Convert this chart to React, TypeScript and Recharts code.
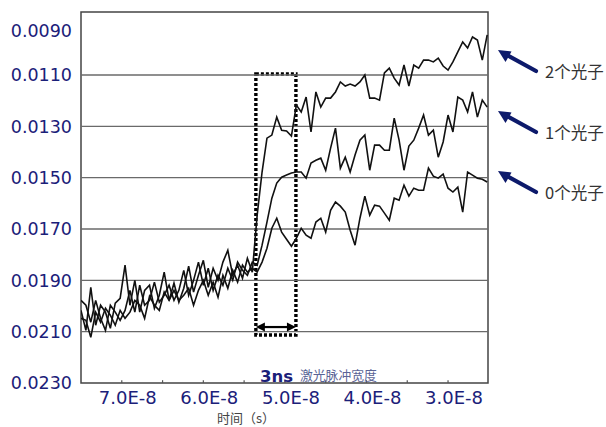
import React from "react";
import { LineChart, Line, XAxis, YAxis, ReferenceLine, ReferenceArea } from "recharts";

// sample times in ns (axis shows seconds as x.xE-8)
const timeNs = [
  75.0, 74.4, 73.8, 73.2, 72.6, 72.0, 71.4, 70.8, 70.2, 69.6, 69.0, 68.4, 67.8, 67.2, 66.6, 66.0, 65.4, 64.8, 64.2, 63.6,
  63.0, 62.4, 61.8, 61.2, 60.6, 60.0, 59.4, 58.8, 58.2, 57.6, 57.0, 56.4, 55.8, 55.2, 54.6, 54.0, 53.4, 52.8, 52.2, 51.6,
  51.0, 50.4, 49.8, 49.2, 48.6, 48.0, 47.4, 46.8, 46.2, 45.6, 45.0, 44.4, 43.8, 43.2, 42.6, 42.0, 41.4, 40.8, 40.2, 39.6,
  39.0, 38.4, 37.8, 37.2, 36.6, 36.0, 35.4, 34.8, 34.2, 33.6, 33.0, 32.4, 31.8, 31.2, 30.6, 30.0, 29.4, 28.8, 28.2, 27.6,
  27.0, 26.4, 25.8, 25.2,
];

const photon2 = [
  0.02017, 0.02095, 0.01927, 0.02075, 0.01997, 0.02024, 0.02087, 0.01989, 0.0197, 0.01841, 0.01997, 0.019, 0.02024, 0.01939, 0.01919, 0.02009, 0.01958, 0.01868, 0.01978, 0.01911,
  0.01985, 0.01931, 0.01845, 0.01946, 0.0188, 0.01822, 0.01927, 0.01853, 0.019, 0.01829, 0.01783, 0.0188, 0.01841, 0.01892, 0.01814, 0.01868, 0.01646, 0.01478, 0.01346, 0.01334,
  0.01264, 0.01315, 0.01318, 0.01338, 0.01217, 0.01244, 0.01186, 0.01322, 0.01166, 0.01225, 0.0119, 0.0119, 0.01166, 0.01127, 0.01143, 0.01135, 0.01143, 0.01127, 0.011, 0.0119,
  0.0119, 0.01198, 0.01092, 0.01073, 0.01112, 0.01139, 0.01061, 0.01143, 0.01061, 0.01073, 0.01042, 0.01042, 0.01049, 0.01034, 0.01065, 0.01081, 0.01049, 0.0101, 0.00971, 0.00995,
  0.00952, 0.00964, 0.01042, 0.00944,
];

const photon1 = [
  0.01978, 0.01997, 0.02063, 0.01978, 0.02048, 0.02095, 0.01997, 0.02024, 0.02056, 0.02017, 0.01939, 0.02024, 0.01919, 0.01997, 0.01978, 0.01907, 0.01985, 0.01958, 0.01919, 0.01978,
  0.01939, 0.01861, 0.01958, 0.019, 0.01829, 0.01919, 0.01853, 0.01939, 0.0188, 0.01919, 0.01853, 0.019, 0.01829, 0.01861, 0.0188, 0.01829, 0.01841, 0.01763, 0.01673, 0.0158,
  0.01521, 0.01498, 0.0149, 0.01482, 0.01478, 0.01478, 0.01502, 0.01443, 0.01432, 0.01424, 0.01471, 0.01385, 0.01307, 0.01463, 0.0142, 0.01478, 0.01412, 0.01354, 0.01334, 0.01471,
  0.01373, 0.01373, 0.01393, 0.01393, 0.01268, 0.01354, 0.01471, 0.01377, 0.01354, 0.01307, 0.01256, 0.01334, 0.01315, 0.0142, 0.01361, 0.01256, 0.01322, 0.01186, 0.01198, 0.01244,
  0.01166, 0.01264, 0.01198, 0.01225,
];

const photon0 = [
  0.02048, 0.02056, 0.02122, 0.02024, 0.02063, 0.02009, 0.02036, 0.02075, 0.02017, 0.02048, 0.02024, 0.01978, 0.01997, 0.02048, 0.01962, 0.01997, 0.02017, 0.01946, 0.01978, 0.01939,
  0.01978, 0.01958, 0.01931, 0.01997, 0.01939, 0.019, 0.01958, 0.01907, 0.01966, 0.0188, 0.01931, 0.01861, 0.01907, 0.01841, 0.01868, 0.01853, 0.01868, 0.01829, 0.01775, 0.01697,
  0.01658, 0.01712, 0.0174, 0.01767, 0.01736, 0.01697, 0.01724, 0.01736, 0.01673, 0.01658, 0.01712, 0.01627, 0.01595, 0.01611, 0.01634, 0.01705, 0.01763, 0.01658, 0.01572, 0.01646,
  0.01607, 0.01611, 0.01638, 0.01666, 0.0158, 0.01588, 0.01529, 0.01572, 0.01541, 0.01549, 0.01549, 0.01463, 0.01494, 0.01502, 0.01486, 0.01541, 0.01556, 0.01537, 0.01634, 0.01478,
  0.0149, 0.01502, 0.01506, 0.01517,
];

const yTicks = [0.009, 0.011, 0.013, 0.015, 0.017, 0.019, 0.021, 0.023];
const gridValues = [0.011, 0.013, 0.015, 0.017, 0.019, 0.021];
const xTicks = [70, 60, 50, 40, 30];
const xMinorTicks = [70, 65, 60, 55, 50, 45, 40, 35, 30];
const xDomain = [25.1, 75];
const yDomain = [0.008545, 0.023];
const pulseWindow = { from: 53.56, to: 48.65, top: 0.01096, bottom: 0.02113, arrowAt: 0.02082 };
const seriesLabels = ["2个光子", "1个光子", "0个光子"];

const data = timeNs.map((t, i) => ({ t, s2: photon2[i], s1: photon1[i], s0: photon0[i] }));

const NAVY = "#1b2079";
const FONT = "'DejaVu Sans', sans-serif";
const CJK = "'Noto Sans CJK SC', sans-serif";

const YTick = (props: any) => {
  const { x, y, payload } = props;
  const extra = payload.value === 0.009 ? 7 : 0;
  return (
    <text x={x} y={y + extra} dy="0.36em" textAnchor="end" fill={NAVY} fontSize={17.5} fontFamily={FONT}>
      {Number(payload.value).toFixed(4)}
    </text>
  );
};

const XTick = (props: any) => {
  const { x, y, payload } = props;
  return (
    <text x={x + 6} y={y} dy={12.5} textAnchor="middle" fill={NAVY} fontSize={18} fontFamily={FONT}>
      {(payload.value / 10).toFixed(1) + "E-8"}
    </text>
  );
};

const DoubleArrow = (props: any) => {
  const { x1, y1, x2, y2 } = props;
  const l = Math.min(x1, x2);
  const r = Math.max(x1, x2);
  const y = y1;
  return (
    <g>
      <line x1={l + 6} y1={y} x2={r - 6} y2={y2} stroke="#000" strokeWidth={2.2} />
      <polygon points={`${l},${y} ${l + 9},${y - 4.5} ${l + 9},${y + 4.5}`} fill="#000" />
      <polygon points={`${r},${y} ${r - 9},${y - 4.5} ${r - 9},${y + 4.5}`} fill="#000" />
    </g>
  );
};

const SideArrow = ({ dy, label }: { dy: number; label: string }) => (
  <g transform={`translate(0, ${dy})`}>
    <line x1={536} y1={71} x2={506} y2={54.5} stroke="#0d1a6b" strokeWidth={4.2} strokeLinecap="round" />
    <polygon points="498,50 511.5,51.5 505.5,62" fill="#0d1a6b" />
    <text x={545} y={71} dominantBaseline="central" fill="#333" fontSize={16.5} fontFamily={CJK}>
      {label}
    </text>
  </g>
);

export default function App() {
  return (
    <div style={{ position: "absolute", left: 0, top: 0, width: 606, height: 427, background: "#fff", fontFamily: FONT, overflow: "hidden" }}>
      <LineChart width={606} height={427} data={data} margin={{ top: 12, right: 118, bottom: 0, left: 0 }}>
        <XAxis
          dataKey="t"
          type="number"
          domain={xDomain}
          reversed
          allowDataOverflow
          ticks={xTicks}
          tick={<XTick />}
          tickLine={false}
          axisLine={false}
          height={44}
          interval={0}
        />
        <YAxis
          type="number"
          domain={yDomain}
          reversed
          allowDataOverflow
          ticks={yTicks}
          tick={<YTick />}
          tickLine={false}
          axisLine={false}
          tickMargin={3}
          width={81}
          interval={0}
        />
        {gridValues.map((v) => (
          <ReferenceLine key={"g" + v} y={v} stroke="#6a6a6a" strokeWidth={1.4} ifOverflow="extendDomain" />
        ))}
        {xMinorTicks.map((t) => (
          <ReferenceLine key={"m" + t} segment={[{ x: t, y: 0.023 }, { x: t, y: 0.02289 }]} stroke="#555" strokeWidth={1.2} />
        ))}
        <Line dataKey="s0" type="linear" stroke="#111" strokeWidth={1.6} dot={false} isAnimationActive={false} />
        <Line dataKey="s1" type="linear" stroke="#111" strokeWidth={1.6} dot={false} isAnimationActive={false} />
        <Line dataKey="s2" type="linear" stroke="#111" strokeWidth={1.6} dot={false} isAnimationActive={false} />
        <ReferenceArea
          x1={xDomain[1]}
          x2={xDomain[0]}
          y1={yDomain[0]}
          y2={yDomain[1]}
          fill="none"
          fillOpacity={0}
          stroke="#444"
          strokeWidth={1.5}
          ifOverflow="visible"
        />
        <ReferenceArea
          x1={pulseWindow.from}
          x2={pulseWindow.to}
          y1={pulseWindow.top}
          y2={pulseWindow.bottom}
          fill="none"
          fillOpacity={0}
          stroke="#000"
          strokeWidth={3.4}
          strokeDasharray="3 2"
          ifOverflow="visible"
        />
        <ReferenceLine
          segment={[{ x: pulseWindow.from, y: pulseWindow.arrowAt }, { x: pulseWindow.to, y: pulseWindow.arrowAt }]}
          shape={<DoubleArrow />}
        />
      </LineChart>
      <svg width={606} height={427} style={{ position: "absolute", left: 0, top: 0, pointerEvents: "none" }}>
        <text x={260} y={382} fill={NAVY} fontSize={16.5} fontWeight="bold" fontFamily={FONT}>3ns</text>
        <text x={300} y={380} fill="#5a6496" fontSize={12.8} fontFamily={CJK}>激光脉冲宽度</text>
        <text x={217} y={422.5} fill="#444" fontSize={13} fontFamily={CJK}>时间（s）</text>
        {seriesLabels.map((lab, i) => (
          <SideArrow key={lab} dy={[0, 61, 121][i]} label={lab} />
        ))}
      </svg>
    </div>
  );
}
